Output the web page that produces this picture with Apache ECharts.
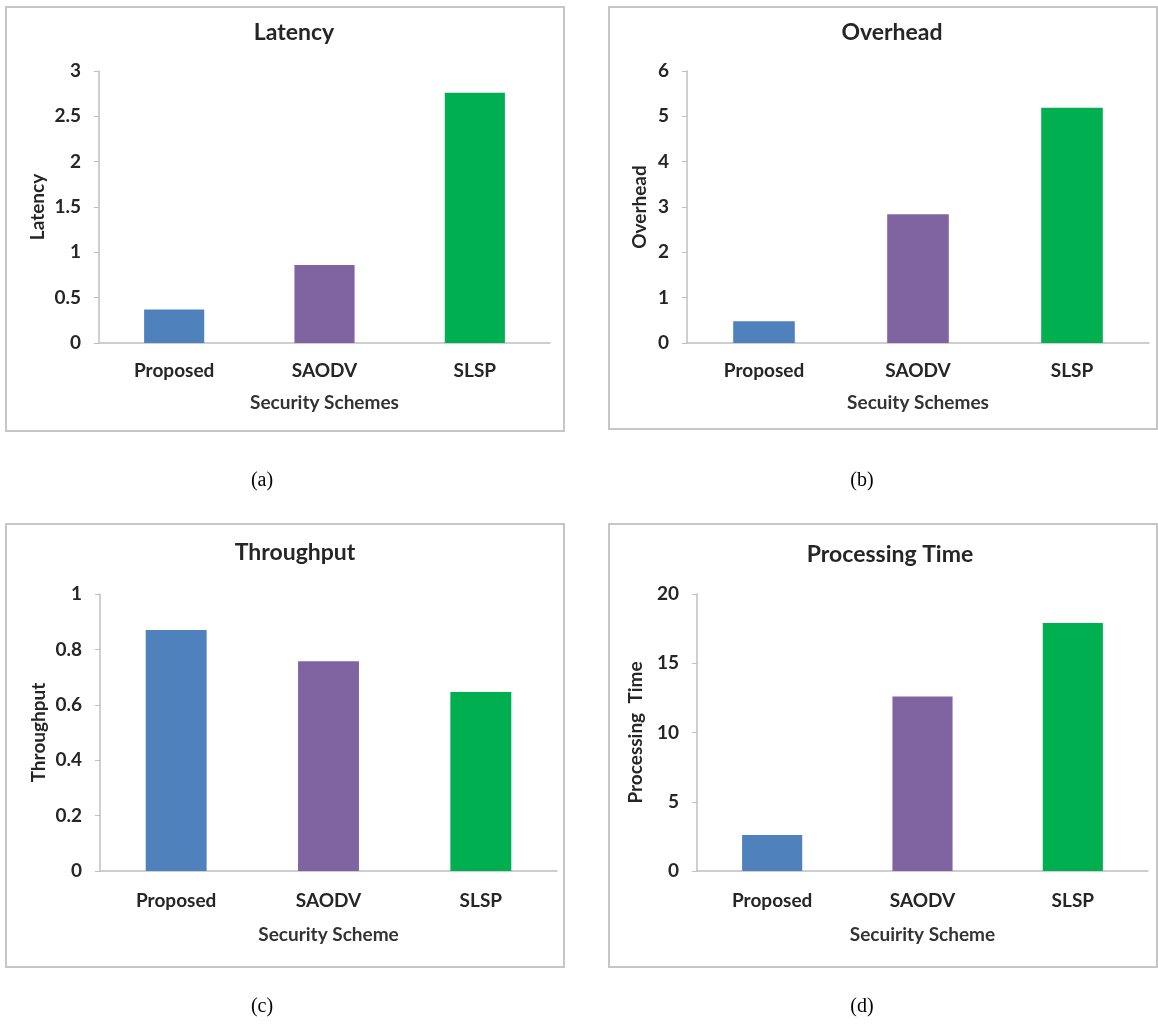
<!DOCTYPE html>
<html>
<head>
<meta charset="utf-8">
<script src="https://cdn.jsdelivr.net/npm/echarts@6/dist/echarts.min.js"></script>
<style>
html,body{margin:0;padding:0;background:#fff;}
#chart{width:1158px;height:1029px;}
</style>
</head>
<body>
<div id="chart"></div>
<script>
// ---- data ----
const categories = ['Proposed', 'SAODV', 'SLSP'];
const latency = [0.37, 0.86, 2.76];
const overhead = [0.48, 2.84, 5.19];
const throughput = [0.87, 0.757, 0.646];
const processingTime = [2.6, 12.6, 17.9];
const barColors = ['#4f81bd', '#8064a2', '#00b050'];

const panelTitles = ['Latency', 'Overhead', 'Throughput', 'Processing Time'];
const yNames = ['Latency', 'Overhead', 'Throughput', 'Processing  Time'];
const xNames = ['Security Schemes', 'Secuity Schemes', 'Security Scheme', 'Secuirity Scheme'];
const captions = ['(a)', '(b)', '(c)', '(d)'];
const yMax = [3, 6, 1, 20];
const yInterval = [0.5, 1, 0.2, 5];
const seriesValues = [latency, overhead, throughput, processingTime];

// ---- layout ----
const FONT = 'Lato';
const grids = [
  {left: 99, top: 71, width: 451, height: 272},
  {left: 687, top: 71, width: 462, height: 272},
  {left: 100, top: 594, width: 457, height: 277},
  {left: 697, top: 594, width: 451, height: 277}
];
const panels = [
  {x: 6, y: 7, w: 558, h: 424},
  {x: 609, y: 7, w: 548, h: 422},
  {x: 6, y: 524, w: 558, h: 443},
  {x: 609, y: 524, w: 548, h: 443}
];
const titlePos = [[289, 16], [887, 16], [290, 536], [885, 538]];
const captionPos = [[257, 466], [857, 466], [257, 992], [857, 992]];
const yNameGap = [52, 38, 52, 52];
const xNameGap = [50, 50, 54, 54];
const xLabelMargin = [18, 18, 20, 20];

const chart = echarts.init(document.getElementById('chart'), null, {renderer: 'canvas'});

const option = {
  backgroundColor: '#ffffff',
  animation: false,
  graphic: panels.map(p => ({
    type: 'rect',
    shape: {x: p.x, y: p.y, width: p.w, height: p.h},
    style: {fill: 'none', stroke: '#c6c6c6', lineWidth: 2},
    z: -1
  })),
  title: panelTitles.map((t, i) => ({
    text: t,
    left: titlePos[i][0],
    top: titlePos[i][1],
    textAlign: 'center',
    textStyle: {fontFamily: FONT, fontWeight: 'bold', fontSize: 23, color: '#262626'}
  })).concat(captions.map((c, i) => ({
    text: c,
    left: captionPos[i][0],
    top: captionPos[i][1],
    textAlign: 'center',
    textStyle: {fontFamily: 'Liberation Serif', fontWeight: 'normal', fontSize: 20, color: '#000'}
  }))),
  grid: grids,
  xAxis: grids.map((g, i) => ({
    type: 'category',
    gridIndex: i,
    data: categories,
    name: xNames[i],
    nameLocation: 'middle',
    nameGap: xNameGap[i],
    nameTextStyle: {fontFamily: FONT, fontWeight: 'bold', fontSize: 19, color: '#333'},
    axisLine: {show: true, lineStyle: {color: '#bfbfbf', width: 1.5}},
    axisTick: {show: false},
    axisLabel: {fontFamily: FONT, fontWeight: 'bold', fontSize: 19, color: '#262626', margin: xLabelMargin[i]},
    splitLine: {show: false}
  })),
  yAxis: grids.map((g, i) => ({
    type: 'value',
    gridIndex: i,
    min: 0,
    max: yMax[i],
    interval: yInterval[i],
    name: yNames[i],
    nameLocation: 'middle',
    nameRotate: 90,
    nameGap: yNameGap[i],
    nameTextStyle: {fontFamily: FONT, fontWeight: 'bold', fontSize: 19, color: '#262626'},
    axisLine: {show: true, lineStyle: {color: '#bfbfbf', width: 1.5}},
    axisTick: {show: true, length: 5, lineStyle: {color: '#bfbfbf'}},
    axisLabel: {fontFamily: FONT, fontWeight: 'bold', fontSize: 19, color: '#262626', margin: 18},
    splitLine: {show: false}
  })),
  series: seriesValues.map((vals, i) => ({
    type: 'bar',
    xAxisIndex: i,
    yAxisIndex: i,
    barWidth: '40%',
    data: vals.map((v, j) => ({value: v, itemStyle: {color: barColors[j]}}))
  }))
};
chart.setOption(option);
</script>
</body>
</html>
